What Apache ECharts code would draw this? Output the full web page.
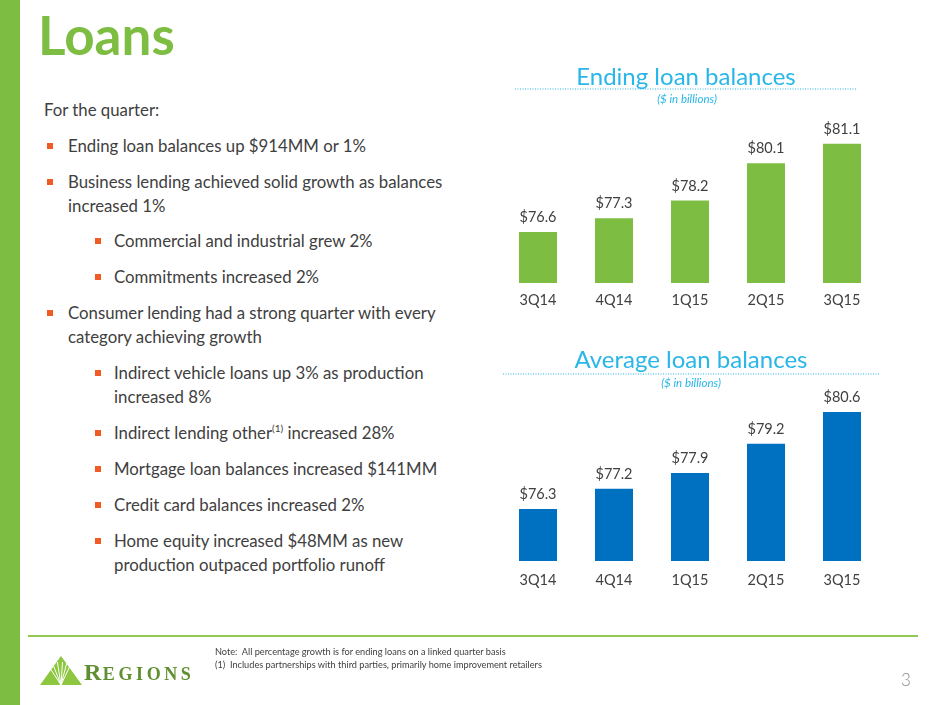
<!DOCTYPE html>
<html>
<head>
<meta charset="utf-8">
<script src="https://cdn.jsdelivr.net/npm/echarts@6/dist/echarts.min.js"></script>
<style>
  html, body { margin: 0; padding: 0; background: #fff; }
  body { width: 940px; height: 705px; position: relative; overflow: hidden; font-family: Lato, "Open Sans", sans-serif; color: #404040; }
  #side { position: absolute; left: 0; top: 0; width: 20px; height: 705px; background: #7dbd42; }
  #title { position: absolute; left: 38px; top: 3px; font-size: 53px; font-weight: bold; color: #7dbd42; }
  #main { position: absolute; left: 0; top: 0; width: 940px; height: 705px; }
  .txt { position: absolute; font-size: 16.8px; line-height: 24px; white-space: nowrap; }
  .b1, .b2 { position: absolute; font-size: 16.8px; line-height: 24px; white-space: nowrap; }
  .b1::before, .b2::before { content: ""; position: absolute; width: 6px; height: 6px; background: #f15a22; top: 9px; }
  .b1 { left: 68px; } .b1::before { left: -21px; }
  .b2 { left: 114px; } .b2::before { left: -19px; }
  sup { font-size: 10px; line-height: 0; vertical-align: 7px; }
  #rule { position: absolute; left: 28px; top: 635px; width: 890px; height: 2px; background: #92c955; }
  #note { position: absolute; left: 215px; top: 645px; font-size: 9.2px; line-height: 13px; color: #404040; }
  #page { position: absolute; left: 901px; top: 669px; font-size: 17px; color: #8c8c8c; font-weight: 300; }
  #logo { position: absolute; left: 84px; top: 660px; font-family: "Liberation Serif", serif; font-weight: bold; color: #5f8f30; white-space: nowrap; line-height: 24px; }
  #logo .big { font-size: 24px; letter-spacing: 1.5px; }
  #logo .sm { font-size: 18px; letter-spacing: 3.6px; }
</style>
</head>
<body>
<div id="side"></div>
<div id="title">Loans</div>

<div class="txt" style="left:44px; top:98px;">For the quarter:</div>
<div class="b1" style="top:134px;">Ending loan balances up $914MM or 1%</div>
<div class="b1" style="top:170px;">Business lending achieved solid growth as balances<br>increased 1%</div>
<div class="b2" style="top:229px;">Commercial and industrial grew 2%</div>
<div class="b2" style="top:265px;">Commitments increased 2%</div>
<div class="b1" style="top:301px;">Consumer lending had a strong quarter with every<br>category achieving growth</div>
<div class="b2" style="top:361px;">Indirect vehicle loans up 3% as production<br>increased 8%</div>
<div class="b2" style="top:421px;">Indirect lending other<sup>(1)</sup> increased 28%</div>
<div class="b2" style="top:457px;">Mortgage loan balances increased $141MM</div>
<div class="b2" style="top:493px;">Credit card balances increased 2%</div>
<div class="b2" style="top:529px;">Home equity increased $48MM as new<br>production outpaced portfolio runoff</div>

<div id="main"></div>

<div id="rule"></div>
<div id="logo"><span class="big">R</span><span class="sm">EGIONS</span></div>
<div id="note">Note:&nbsp; All percentage growth is for ending loans on a linked quarter basis<br>(1)&nbsp; Includes partnerships with third parties, primarily home improvement retailers</div>
<div id="page">3</div>

<script>
const quarters = ['3Q14', '4Q14', '1Q15', '2Q15', '3Q15'];
const endingBalances = [76.6, 77.3, 78.2, 80.1, 81.1];
const averageBalances = [76.3, 77.2, 77.9, 79.2, 80.6];

const chart = echarts.init(document.getElementById('main'), null, {renderer: 'canvas'});

const labelStyle = {
  show: true,
  position: 'top',
  distance: 7,
  color: '#404040',
  fontSize: 14.5,
  fontFamily: 'Lato',
  formatter: p => '$' + p.value.toFixed(1)
};

const xAxisBase = {
  type: 'category',
  data: quarters,
  axisLine: {show: false},
  axisTick: {show: false},
  axisLabel: {color: '#404040', fontSize: 14.5, fontFamily: 'Lato'}
};

// logo: triangle with white rays
const triLeft = 40, triRight = 82, triTop = 656, triBottom = 685;
const rays = [];
[-0.5, -0.3, -0.12, 0.05, 0.2, 0.36].forEach(function(k) {
  rays.push({
    type: 'line',
    shape: {x1: 61, y1: triBottom, x2: 61 + k * 30, y2: triTop + 6},
    style: {stroke: '#fff', lineWidth: 1}
  });
});

chart.setOption({
  animation: false,
  grid: [
    {left: 500, width: 380, top: 126, height: 157},
    {left: 500, width: 380, top: 403, height: 158}
  ],
  xAxis: [
    Object.assign({gridIndex: 0}, xAxisBase, {axisLabel: Object.assign({}, xAxisBase.axisLabel, {margin: 10})}),
    Object.assign({gridIndex: 1}, xAxisBase, {axisLabel: Object.assign({}, xAxisBase.axisLabel, {margin: 12})})
  ],
  yAxis: [
    {gridIndex: 0, type: 'value', min: 74, max: 82, show: false},
    {gridIndex: 1, type: 'value', min: 74, max: 81, show: false}
  ],
  series: [
    {
      type: 'bar', xAxisIndex: 0, yAxisIndex: 0, data: endingBalances,
      barWidth: '50%', itemStyle: {color: '#7dbd42'}, label: labelStyle
    },
    {
      type: 'bar', xAxisIndex: 1, yAxisIndex: 1, data: averageBalances,
      barWidth: '50%', itemStyle: {color: '#0070c0'}, label: labelStyle
    }
  ],
  graphic: [
    {type: 'text', x: 686, y: 77, style: {text: 'Ending loan balances', fill: '#29b6e8', font: '24px Lato', align: 'center', verticalAlign: 'middle'}},
    {type: 'line', shape: {x1: 515, y1: 89, x2: 856, y2: 89}, style: {stroke: '#29b6e8', lineWidth: 1, lineDash: [1, 1.5]}},
    {type: 'text', x: 687, y: 99, style: {text: '($ in billions)', fill: '#29b6e8', font: 'italic 11.5px Lato', align: 'center', verticalAlign: 'middle'}},
    {type: 'text', x: 691, y: 360, style: {text: 'Average loan balances', fill: '#29b6e8', font: '24px Lato', align: 'center', verticalAlign: 'middle'}},
    {type: 'line', shape: {x1: 503, y1: 374, x2: 880, y2: 374}, style: {stroke: '#29b6e8', lineWidth: 1, lineDash: [1, 1.5]}},
    {type: 'text', x: 691, y: 383, style: {text: '($ in billions)', fill: '#29b6e8', font: 'italic 11.5px Lato', align: 'center', verticalAlign: 'middle'}},
    {type: 'polygon', shape: {points: [[triLeft, triBottom], [61, triTop], [triRight, triBottom]]}, style: {fill: '#8dc63f'}},
    ...rays
  ]
});
</script>
</body>
</html>
